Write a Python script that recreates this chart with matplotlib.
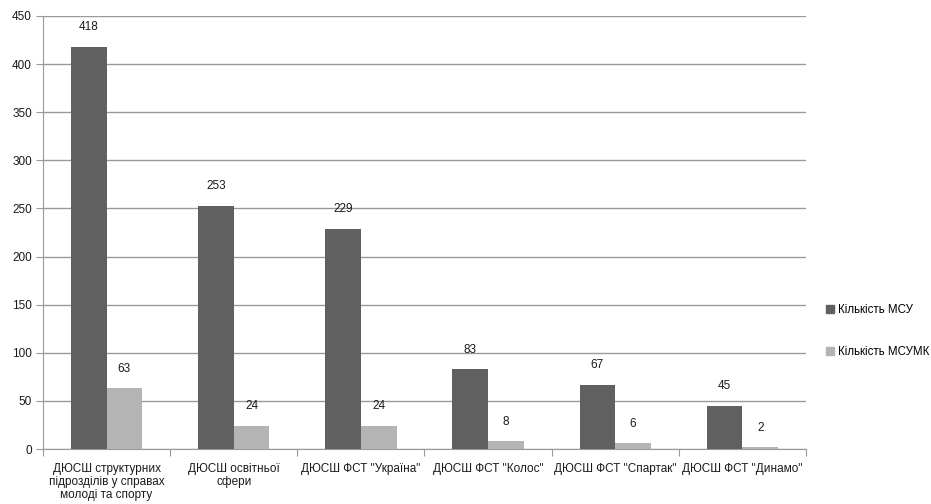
import matplotlib
matplotlib.use("Agg")
import matplotlib.pyplot as plt
import numpy as np
from matplotlib.patches import Patch
from matplotlib import font_manager

names = {f.name for f in font_manager.fontManager.ttflist}
fam = 'Liberation Sans Narrow' if 'Liberation Sans Narrow' in names else 'Liberation Sans'
plt.rcParams['font.family'] = [fam, 'DejaVu Sans']
fs = 10 if fam == 'Liberation Sans Narrow' else 8.5
lfs = 9.5 if fam == 'Liberation Sans Narrow' else 8.3

categories = ['ДЮСШ структурних\nпідрозділів у справах\nмолоді та спорту',
              'ДЮСШ освітньої\nсфери',
              'ДЮСШ ФСТ "Україна"',
              'ДЮСШ ФСТ "Колос"',
              'ДЮСШ ФСТ "Спартак"',
              'ДЮСШ ФСТ "Динамо"']
msu = [418, 253, 229, 83, 67, 45]
msumk = [63, 24, 24, 8, 6, 2]
series_names = ['Кількість МСУ', 'Кількість МСУМК']
colors = ['#606060', '#b4b4b4']

fig = plt.figure(figsize=(9.31, 5.04), dpi=100)
ax = fig.add_axes([43/931, 1-449/504, (806-43)/931, (449-16)/504])

x = np.arange(len(categories))
w = 0.28
b1 = ax.bar(x - w/2, msu, w, color=colors[0], zorder=3)
b2 = ax.bar(x + w/2, msumk, w, color=colors[1], zorder=3)
for bars in (b1, b2):
    for r in bars:
        ax.annotate(str(int(r.get_height())), (r.get_x() + r.get_width()/2, r.get_height()),
                    xytext=(0, 14), textcoords='offset points', ha='center', va='center',
                    fontsize=fs, color='#1a1a1a')

ax.set_xlim(-0.5, len(categories) - 0.5)
ax.set_ylim(0, 450)
ax.set_yticks(range(0, 451, 50))
ax.yaxis.grid(True, color='#999999', linewidth=1, zorder=0)
ax.set_axisbelow(True)
for s in ['top', 'right']:
    ax.spines[s].set_visible(False)
for s in ['left', 'bottom']:
    ax.spines[s].set_color('#999999')
ax.tick_params(axis='y', length=5, color='#999999', labelsize=fs, pad=3, labelcolor='#1a1a1a')
ax.set_xticks(np.arange(-0.5, len(categories), 1))
ax.set_xticklabels([])
ax.tick_params(axis='x', which='major', length=5, color='#999999')
ax.set_xticks(x, minor=True)
ax.set_xticklabels(categories, minor=True, fontsize=fs, color='#1a1a1a', linespacing=1.12)
ax.tick_params(axis='x', which='minor', length=0, pad=10)

handles = [Patch(color=c) for c in colors]
fig.legend(handles, series_names, loc='center left', bbox_to_anchor=(816/931, 1-331/504),
           frameon=False, fontsize=lfs, handlelength=0.7, handleheight=0.7,
           handletextpad=0.3, labelspacing=2.6)

fig.savefig('out.png', dpi=100)
